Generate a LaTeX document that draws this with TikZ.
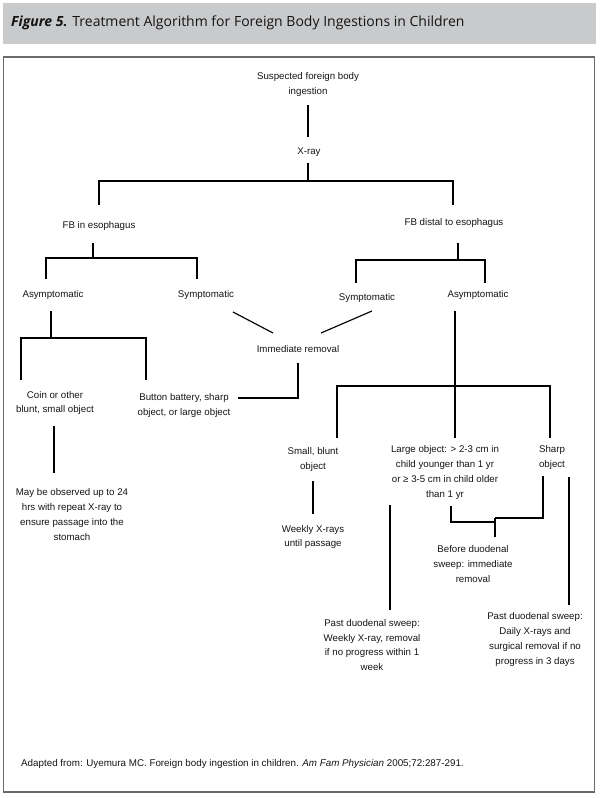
\documentclass[tikz,border=0pt]{standalone}
\usepackage{fontspec}
\setmainfont{Liberation Sans}
\newfontfamily\titlefont{Open Sans}
\definecolor{headgray}{HTML}{C9CACC}
\definecolor{framegray}{HTML}{6A6A6A}
\definecolor{txtcol}{HTML}{141414}
\begin{document}
\begin{tikzpicture}[x=1pt,y=-1pt,
  txt/.style={inner sep=0pt, align=center, text=txtcol, font=\fontsize{9.7}{14.8}\selectfont},
  ln/.style={line width=1.15pt, black}]
\useasboundingbox (0,0) rectangle (600,798);
\fill[headgray] (3,3) rectangle (596,44);
\draw[framegray, line width=1.2pt] (3.5,57) rectangle (594.5,792);
\node[anchor=west, inner sep=0pt, text=txtcol, font=\titlefont\fontsize{14}{16}\selectfont] (title) at (11,23) {\textbf{\textit{Figure 5.}} Treatment Algorithm for Foreign Body Ingestions in Children};
\node[anchor=west, inner sep=0pt, text=txtcol, font=\fontsize{9.8}{11}\selectfont] (cite) at (21,764) {Adapted from: Uyemura MC. Foreign body ingestion in children. \textit{Am Fam Physician} 2005;72:287-291.};
% nodes
\node[txt] (susp) at (308,84.5) {Suspected foreign body\\ingestion};
\node[txt] (xray) at (309,152) {X-ray};
\node[txt] (fbeso) at (99,226) {FB in esophagus};
\node[txt] (fbdist) at (454,223) {FB distal to esophagus};
\node[txt] (asymL) at (53,295) {Asymptomatic};
\node[txt] (sympL) at (206,295) {Symptomatic};
\node[txt] (sympR) at (367,298) {Symptomatic};
\node[txt] (asymR) at (478,295) {Asymptomatic};
\node[txt] (immed) at (298,349.5) {Immediate removal};
\node[txt] (coin) at (55,403) {Coin or other\\blunt, small object};
\node[txt] (button) at (184,405.5) {Button battery, sharp\\object, or large object};
\node[txt] (mayobs) at (72,514.5) {May be observed up to 24\\hrs with repeat X-ray to\\ensure passage into the\\stomach};
\node[txt] (small) at (313,459.5) {Small, blunt\\object};
\node[txt] (large) at (445,472.5) {Large object: > 2-3 cm in\\child younger than 1 yr\\or ≥ 3-5 cm in child older\\than 1 yr};
\node[txt] (sharp) at (552,457.5) {Sharp\\object};
\node[txt] (weekly) at (313,537) {Weekly X-rays\\until passage};
\node[txt] (before) at (473,564) {Before duodenal\\sweep: immediate\\removal};
\node[txt] (pastL) at (372,645) {Past duodenal sweep:\\Weekly X-ray, removal\\if no progress within 1\\week};
\node[txt] (pastR) at (535,639.5) {Past duodenal sweep:\\Daily X-rays and\\surgical removal if no\\progress in 3 days};
% coordinates
\coordinate (s1) at (308,105); \coordinate (s2) at (308,137);
\coordinate (x1) at (308,163); \coordinate (x2) at (308,181);
\coordinate (xl) at (99,181); \coordinate (xr) at (453,181);
\coordinate (xlb) at (99,205); \coordinate (xrb) at (453,205);
\coordinate (e1) at (93,243); \coordinate (e2) at (93,258);
\coordinate (el) at (46,258); \coordinate (er) at (197,258);
\coordinate (elb) at (46,279); \coordinate (erb) at (197,279);
\coordinate (d1) at (458,243); \coordinate (d2) at (458,260);
\coordinate (dl) at (356,260); \coordinate (dr) at (485,260);
\coordinate (dlb) at (356,283); \coordinate (drb) at (485,283);
\coordinate (g1) at (233,312); \coordinate (g2) at (273,333);
\coordinate (h1) at (372,311); \coordinate (h2) at (321,333);
\coordinate (i1) at (298,363); \coordinate (i2) at (298,398); \coordinate (i3) at (238,398);
\coordinate (a1) at (51,311); \coordinate (a2) at (51,338);
\coordinate (al) at (21,338); \coordinate (ar) at (146,338);
\coordinate (alb) at (21,380); \coordinate (arb) at (146,380);
\coordinate (c1) at (54,426); \coordinate (c2) at (54,473);
\coordinate (b1) at (455,311); \coordinate (b2) at (455,386); \coordinate (b2b) at (455,438);
\coordinate (bl) at (337,386); \coordinate (br) at (550,386);
\coordinate (blb) at (337,438); \coordinate (brb) at (550,438);
\coordinate (m1) at (313,481); \coordinate (m2) at (313,514);
\coordinate (p1) at (390,505); \coordinate (p2) at (390,610);
\coordinate (k1) at (451,506); \coordinate (k2) at (451,522); \coordinate (k3) at (495,522);
\coordinate (q1) at (543,476); \coordinate (q2) at (543,518); \coordinate (q3) at (495,518);
\coordinate (k4) at (495,537);
\coordinate (r1) at (569,477); \coordinate (r2) at (569,605);
% connectors
\draw[ln] (s1) -- (s2);
\draw[ln] (x1) -- (x2);
\draw[ln] (xlb) -- (xl) -- (xr) -- (xrb);
\draw[ln] (e1) -- (e2);
\draw[ln] (elb) -- (el) -- (er) -- (erb);
\draw[ln] (d1) -- (d2);
\draw[ln] (dlb) -- (dl) -- (dr) -- (drb);
\draw[ln] (g1) -- (g2);
\draw[ln] (h1) -- (h2);
\draw[ln] (i1) -- (i2) -- (i3);
\draw[ln] (a1) -- (a2);
\draw[ln] (alb) -- (al) -- (ar) -- (arb);
\draw[ln] (c1) -- (c2);
\draw[ln] (b1) -- (b2b);
\draw[ln] (blb) -- (bl) -- (br) -- (brb);
\draw[ln] (m1) -- (m2);
\draw[ln] (p1) -- (p2);
\draw[ln] (k1) -- (k2) -- (k3);
\draw[ln] (q1) -- (q2) -- (q3);
\draw[ln] (q3) -- (k4);
\draw[ln] (r1) -- (r2);
\end{tikzpicture}
\end{document}
